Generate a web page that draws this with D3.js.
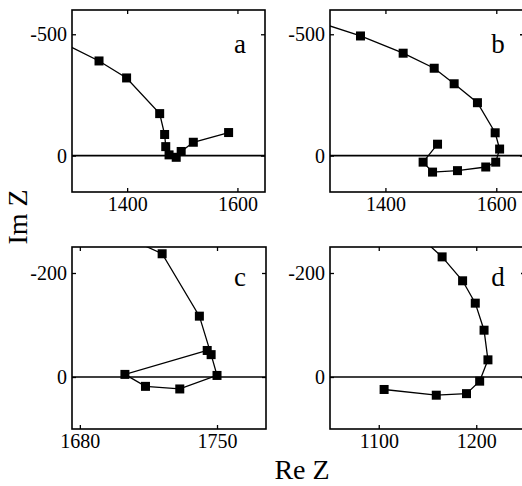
<!DOCTYPE html>
<html>
<head>
<meta charset="utf-8">
<script src="https://cdn.jsdelivr.net/npm/d3@7"></script>
<style>
  body { margin: 0; background: #fff; }
  text { font-family: "Liberation Serif", "Times New Roman", serif; fill: #000; }
</style>
</head>
<body>
<script>

// panel a
var aRe = [1285, 1349, 1399, 1459, 1468, 1470, 1476, 1489, 1498, 1520, 1584];
var aIm = [-462, -390, -320, -173, -87, -37, -3, 7, -17, -55, -95];
// panel b
var bRe = [1285, 1355, 1432, 1488, 1524, 1566, 1598, 1606, 1599, 1581, 1530, 1485, 1468, 1494];
var bIm = [-545, -493, -422, -360, -296, -218, -94, -27, 27, 47, 62, 68, 27, -47];
// panel c
var cRe = [1700, 1722, 1741, 1747, 1750, 1731, 1713.5, 1703, 1745];
var cIm = [-275, -237, -117, -43, -3, 23, 18, -5, -51];
// panel d
var dRe = [1139, 1165, 1186, 1199, 1208, 1212, 1203.5, 1190, 1159, 1105.5];
var dIm = [-275, -231, -185, -142, -90, -33, 8, 32, 35, 24];

var xTicksAB = [1400, 1600], yTicksAB = [-500, 0];
var xTicksC = [1680, 1750], xTicksD = [1100, 1200], yTicksCD = [-200, 0];

var width = 522, height = 486;

var svg = d3.select("body").append("svg")
    .attr("width", width)
    .attr("height", height);

function panel(id, box, xDomain, yDomain, xTicks, yTicks, re, im, letter) {
  var x = d3.scaleLinear().domain(xDomain).range([box.left, box.right]);
  // Im Z drawn with negative values at the top
  var y = d3.scaleLinear().domain(yDomain).range([box.bottom, box.top]);

  var g = svg.append("g").attr("class", "panel-" + id);

  g.append("clipPath").attr("id", "clip-" + id)
    .append("rect")
      .attr("x", box.left).attr("y", box.top)
      .attr("width", box.right - box.left)
      .attr("height", box.bottom - box.top);

  // axes, ticks inward on all four sides; plain hyphen for the minus
  var axes = [
    [d3.axisBottom(x).tickValues(xTicks), "translate(0," + box.bottom + ")", true],
    [d3.axisTop(x).tickValues(xTicks), "translate(0," + box.top + ")", false],
    [d3.axisLeft(y).tickValues(yTicks), "translate(" + box.left + ",0)", true],
    [d3.axisRight(y).tickValues(yTicks), "translate(" + box.right + ",0)", false]
  ];
  axes.forEach(function(a) {
    var ax = a[0].tickSizeInner(-4).tickSizeOuter(0).tickPadding(a[2] ? 5 : 0)
      .tickFormat(a[2] ? function(d) { return String(d); } : "");
    var ga = g.append("g").attr("transform", a[1]).call(ax)
      .attr("font-family", "'Liberation Serif', serif");
    ga.select(".domain").remove();
    ga.selectAll(".tick line").attr("stroke", "#000").attr("stroke-width", 1.3);
    ga.selectAll("text")
      .style("font-size", "20px")
      .attr("fill", "#000");
  });

  var pts = re.map(function(r, i) { return [r, im[i]]; });

  var plot = g.append("g").attr("clip-path", "url(#clip-" + id + ")");

  // zero line
  plot.append("line")
    .attr("x1", box.left).attr("x2", box.right)
    .attr("y1", y(0)).attr("y2", y(0))
    .attr("stroke", "#000")
    .attr("stroke-width", 1.6);

  plot.append("path")
    .datum(pts)
    .attr("fill", "none")
    .attr("stroke", "#000")
    .attr("stroke-width", 1.3)
    .attr("d", d3.line()
      .x(function(d) { return x(d[0]); })
      .y(function(d) { return y(d[1]); }));

  var s = 9;
  plot.selectAll(".mark")
    .data(pts)
    .enter().append("rect")
      .attr("class", "mark")
      .attr("x", function(d) { return x(d[0]) - s / 2; })
      .attr("y", function(d) { return y(d[1]) - s / 2; })
      .attr("width", s)
      .attr("height", s)
      .attr("fill", "#000");

  // frame
  g.append("rect")
    .attr("x", box.left).attr("y", box.top)
    .attr("width", box.right - box.left)
    .attr("height", box.bottom - box.top)
    .attr("fill", "none")
    .attr("stroke", "#000")
    .attr("stroke-width", 1.6);

  g.append("text")
    .attr("x", box.left + 168)
    .attr("y", box.top + letter.dy)
    .attr("text-anchor", "middle")
    .style("font-size", "27px")
    .text(letter.t);
}

panel("a", {left: 72, right: 265, top: 10, bottom: 192}, [1300, 1650], [150, -600],
  xTicksAB, yTicksAB, aRe, aIm, {t: "a", dy: 43});
panel("b", {left: 330, right: 524, top: 10, bottom: 192}, [1300, 1650], [150, -600],
  xTicksAB, yTicksAB, bRe, bIm, {t: "b", dy: 43});
panel("c", {left: 72, right: 266, top: 247, bottom: 429}, [1676, 1775], [100, -250],
  xTicksC, yTicksCD, cRe, cIm, {t: "c", dy: 39});
panel("d", {left: 330, right: 525, top: 247, bottom: 429}, [1050, 1250], [100, -250],
  xTicksD, yTicksCD, dRe, dIm, {t: "d", dy: 39});

// axis titles
svg.append("text")
  .attr("transform", "translate(27,217) rotate(-90)")
  .attr("text-anchor", "middle")
  .style("font-size", "28px")
  .text("Im Z");

svg.append("text")
  .attr("x", 302)
  .attr("y", 479)
  .attr("text-anchor", "middle")
  .style("font-size", "28px")
  .text("Re Z");

</script>
</body>
</html>
